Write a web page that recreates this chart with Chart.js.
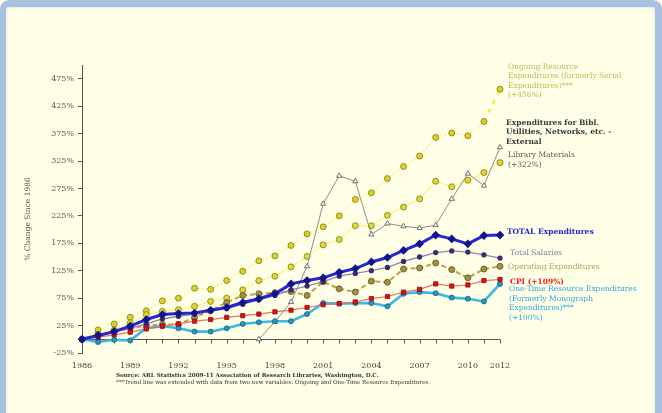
<!DOCTYPE html>
<html>
<head>
<meta charset="utf-8">
<script src="https://cdn.jsdelivr.net/npm/chart.js@4.4.1/dist/chart.umd.min.js"></script>
<style>
  html, body { margin: 0; padding: 0; background: #fffee6; }
  #wrap { position: relative; width: 662px; height: 413px; overflow: hidden; }
  #frame { position: absolute; left: 0; top: 0; width: 662px; height: 440px; box-sizing: border-box;
           border: solid #a9c0df; border-width: 7px 7px 7px 6px; border-radius: 9px;
           box-shadow: inset 0 0 3px #c9d9ee; pointer-events: none; }
  canvas { position: absolute; left: 0; top: 0; }
</style>
</head>
<body>
<div id="wrap">
  <canvas id="artChart" width="662" height="413"></canvas>
  <div id="frame"></div>
</div>
<script>
// années 1986 -> 2012
const years = ['1986','1987','1988','1989','1990','1991','1992','1993','1994','1995','1996','1997','1998','1999',
               '2000','2001','2002','2003','2004','2005','2006','2007','2008','2009','2010','2011','2012'];
const xLabels = ['1986','1989','1992','1995','1998','2001','2004','2007','2010','2012'];
const yTicks = [-25, 25, 75, 125, 175, 225, 275, 325, 375, 425, 475];

// % de variation depuis 1986
const ongoing   = [0,17,28,40,52,70,75,93,91,107,124,143,152,171,192,205,225,255,267,293,315,334,368,376,371,397,456];
const bibl      = [null,null,null,null,null,null,null,null,null,null,null,0,32,68,133,247,298,288,191,211,206,203,208,256,302,280,350];
const libMat    = [0,9,17,30,45,51,54,60,69,75,90,107,115,132,151,172,182,207,207,226,241,256,288,278,290,304,322];
const totalExp  = [0,7,14,24,36,45,47,48,53,58,67,74,83,101,107,112,122,129,141,149,162,174,190,183,174,189,190];
const salaries  = [0,6,13,20,28,37,42,46,52,56,64,72,80,90,97,105,115,120,125,131,142,150,158,161,159,154,148];
const operating = [0,8,14,20,25,27,27,40,52,67,80,83,85,87,80,105,92,86,106,104,128,130,139,127,112,128,133];
const cpi       = [0,4,8,13,19,24,28,33,36,40,43,46,50,53,58,63,65,68,74,78,86,91,101,97,99,107,109];
const oneTime   = [0,-5,-1,-2,20,24,20,14,14,20,28,31,33,33,46,66,65,66,66,60,83,86,84,76,74,69,101];

const serif = 'DejaVu Serif';
const yTitle = '% Change Since 1986';

// étiquettes à droite du graphique
const sideLabels = [
    { x: 508, y: 67,  lines: ['Ongoing Resource', 'Expenditures (formerly Serial', 'Expenditures)***', '(+456%)'], color: '#bcbc58' },
    { x: 506, y: 123, lines: ['Expenditures for Bibl.', 'Utilities, Networks, etc. -', 'External'], color: '#3a3a3a', bold: true },
    { x: 508, y: 155.5, lines: ['Library Materials', '(+322%)'], color: '#5c5c48' },
    { x: 507, y: 232.5, lines: ['TOTAL Expenditures'], color: '#2424cc', bold: true },
    { x: 510, y: 253.5, lines: ['Total Salaries'], color: '#8878a8' },
    { x: 508, y: 267, lines: ['Operating Expenditures'], color: '#aca45c' },
    { x: 510, y: 282.5, lines: ['CPI (+109%)'], color: '#e02020', bold: true },
    { x: 509, y: 289.5, lines: ['One-Time Resource Expenditures', '(Formerly Monograph', 'Expenditures)***', '(+100%)'], color: '#34a8e0' }
];

const footnotes = [
    { text: 'Source: ARL Statistics 2009-11 Association of Research Libraries, Washington, D.C.', bold: true },
    { text: '***Trend line was extended with data from two new variables: Ongoing and One-Time Resource Expenditures.', bold: false }
];

// axe horizontal à 0 % avec une graduation par année
const zeroAxisPlugin = {
    id: 'zeroAxis',
    beforeDatasetsDraw(chart) {
        const { ctx: c, chartArea, scales } = chart;
        const y0 = Math.round(scales.y.getPixelForValue(0)) + 0.5;
        c.save();
        c.strokeStyle = '#555';
        c.lineWidth = 1;
        c.beginPath();
        c.moveTo(chartArea.left, y0);
        c.lineTo(chartArea.right, y0);
        years.forEach((yr, i) => {
            const px = Math.round(scales.x.getPixelForValue(i)) + 0.5;
            c.moveTo(px, y0);
            c.lineTo(px, y0 + 4);
        });
        c.stroke();
        c.restore();
    }
};

const textPlugin = {
    id: 'textPlugin',
    afterDraw(chart) {
        const c = chart.ctx;
        c.save();
        c.textBaseline = 'middle';
        c.textAlign = 'left';
        sideLabels.forEach(lab => {
            c.fillStyle = lab.color;
            c.font = (lab.bold ? 'bold ' : '') + '7.5px "' + serif + '"';
            lab.lines.forEach((l, i) => c.fillText(l, lab.x, lab.y + i * 9.4));
        });
        c.fillStyle = '#333';
        footnotes.forEach((f, i) => {
            c.font = (f.bold ? 'bold ' : '') + '5.6px "' + serif + '"';
            c.fillText(f.text, 116, 376 + i * 7);
        });
        // titre de l'axe vertical
        c.translate(28, 219);
        c.rotate(-Math.PI / 2);
        c.textAlign = 'center';
        c.fillStyle = '#555';
        c.font = '7.5px "' + serif + '"';
        c.fillText(yTitle, 0, 0);
        c.restore();
    }
};

const ctx = document.getElementById('artChart');
new Chart(ctx.getContext('2d'), {
    type: 'line',
    data: {
        labels: years,
        datasets: [
            {
                label: 'TOTAL Expenditures', data: totalExp,
                borderColor: '#2626d2', borderWidth: 3,
                pointStyle: 'rectRot', pointRadius: 2.2, pointBackgroundColor: '#141488', pointBorderColor: '#141488'
            },
            {
                label: 'CPI', data: cpi,
                borderColor: '#f06a6a', borderWidth: 1.2,
                pointStyle: 'rect', pointRadius: 3, pointBackgroundColor: '#d41414', pointBorderColor: '#8a1010', pointBorderWidth: 0.8
            },
            {
                label: 'One-Time Resource Expenditures', data: oneTime,
                borderColor: '#3cb8e2', borderWidth: 2.6,
                pointStyle: 'circle', pointRadius: 2.5, pointBackgroundColor: '#2a98bc', pointBorderColor: '#14607c', pointBorderWidth: 0.8
            },
            {
                label: 'Total Salaries', data: salaries,
                borderColor: '#9484b4', borderWidth: 1.3,
                pointStyle: 'circle', pointRadius: 2, pointBackgroundColor: '#3c2c64', pointBorderColor: '#3c2c64'
            },
            {
                label: 'Operating Expenditures', data: operating,
                borderColor: '#bca444', borderWidth: 2, borderDash: [5, 3],
                pointStyle: 'circle', pointRadius: 3, pointBackgroundColor: '#a09244', pointBorderColor: '#5c5020', pointBorderWidth: 0.8
            },
            {
                label: 'Expenditures for Bibl. Utilities, Networks, etc. - External', data: bibl,
                borderColor: '#8c8c8c', borderWidth: 1,
                pointStyle: 'triangle', pointRadius: 3, pointBackgroundColor: '#f4f4e4', pointBorderColor: '#555555', pointBorderWidth: 0.8
            },
            {
                label: 'Library Materials', data: libMat,
                borderColor: '#f2f268', borderWidth: 1,
                pointStyle: 'circle', pointRadius: 3, pointBackgroundColor: '#dcd83a', pointBorderColor: '#7c7a1c', pointBorderWidth: 0.8
            },
            {
                label: 'Ongoing Resource Expenditures', data: ongoing,
                borderColor: '#ecec50', borderWidth: 1, borderDash: [2, 2],
                segment: {
                    borderWidth: c => c.p1DataIndex === years.length - 1 ? 2.5 : 1,
                    borderDash: c => c.p1DataIndex === years.length - 1 ? [4, 6] : [2, 2]
                },
                pointStyle: 'circle', pointRadius: 3, pointBackgroundColor: '#d6d22a', pointBorderColor: '#7c7a1c', pointBorderWidth: 0.8
            }
        ]
    },
    options: {
        responsive: false,
        animation: false,
        layout: { padding: { left: 0, top: 65, right: 162, bottom: 0 } },
        plugins: {
            legend: { display: false },
            tooltip: { enabled: false }
        },
        scales: {
            x: {
                type: 'category',
                offset: false,
                grid: { display: false, drawTicks: false, tickLength: 0 },
                border: { display: false },
                ticks: {
                    autoSkip: false,
                    maxRotation: 0,
                    padding: 8,
                    color: '#444',
                    font: { family: serif, size: 8 },
                    callback: function (value) {
                        const l = this.getLabelForValue(value);
                        return xLabels.includes(l) ? l : '';
                    }
                },
                afterFit: s => { s.height = 60; }
            },
            y: {
                min: -25,
                max: 500,
                afterBuildTicks: s => { s.ticks = yTicks.map(v => ({ value: v })); },
                grid: { drawOnChartArea: false, tickLength: 4, color: '#555' },
                border: { color: '#555' },
                ticks: {
                    padding: 4,
                    color: '#555',
                    font: { family: serif, size: 8 },
                    callback: v => v + '%'
                },
                afterFit: s => { s.width = 82; }
            }
        }
    },
    plugins: [zeroAxisPlugin, textPlugin]
});
</script>
</body>
</html>
